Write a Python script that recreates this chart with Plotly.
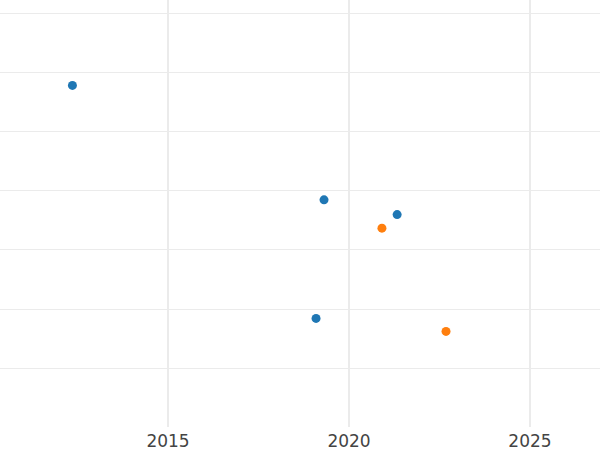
import plotly.graph_objects as go

series_a_x = [2012.36, 2019.31, 2021.33, 2019.09]
series_a_y = [4.79, 2.85, 2.60, 0.84]
series_b_x = [2020.91, 2022.68]
series_b_y = [2.37, 0.62]
x_ticks = [2015, 2020, 2025]

fig = go.Figure()
fig.add_trace(go.Scatter(x=series_a_x, y=series_a_y, mode="markers",
                         marker=dict(color="#1f77b4", size=9), showlegend=False))
fig.add_trace(go.Scatter(x=series_b_x, y=series_b_y, mode="markers",
                         marker=dict(color="#ff7f0e", size=9), showlegend=False))

fig.update_layout(
    width=600, height=450,
    margin=dict(l=0, r=0, t=0, b=23),
    paper_bgcolor="white", plot_bgcolor="white",
    font=dict(family="DejaVu Sans", size=17, color="#444"),
)
fig.update_xaxes(range=[2010.359, 2026.934], tickvals=x_ticks,
                 ticktext=[str(t) for t in x_ticks],
                 ticklabelstandoff=2,
                 showgrid=True, gridcolor="#ebebeb", gridwidth=2,
                 zeroline=False, showline=False)
fig.update_yaxes(range=[-1.0, 6.237], dtick=1, tick0=0,
                 showticklabels=False, showgrid=True, gridcolor="#ebebeb",
                 gridwidth=1, zeroline=False, showline=False)

fig.write_html("out.html", config={"displayModeBar": False},
               post_script="document.body.style.margin='0';document.body.style.padding='0';")
